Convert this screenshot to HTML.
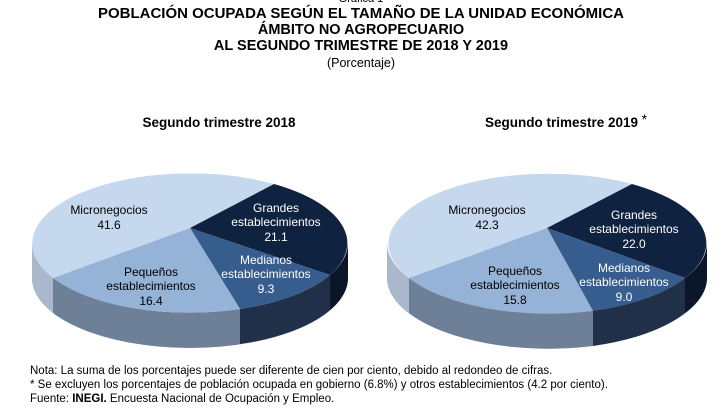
<!DOCTYPE html>
<html><head><meta charset="utf-8"><style>
body{margin:0;width:723px;height:412px;background:#fff;overflow:hidden;font-family:"Liberation Sans",Arial,sans-serif}
</style></head><body>
<svg width="723" height="412" xmlns="http://www.w3.org/2000/svg" font-family="Liberation Sans, Arial, sans-serif">
<defs>
<linearGradient id="sideL" x1="0" x2="1"><stop offset="0" stop-color="#a7b6c8"/><stop offset="1" stop-color="#4a5a70"/></linearGradient>
</defs>
<g text-anchor="middle" font-weight="bold" font-size="14.5">
<text x="361" y="2" font-weight="normal" font-size="11">Gráfica 1</text>
<text x="361" y="18" textLength="526" lengthAdjust="spacingAndGlyphs">POBLACIÓN OCUPADA SEGÚN EL TAMAÑO DE LA UNIDAD ECONÓMICA</text>
<text x="361" y="34">ÁMBITO NO AGROPECUARIO</text>
<text x="361" y="50">AL SEGUNDO TRIMESTRE DE 2018 Y 2019</text>
<text x="361" y="67" font-weight="normal" font-size="12.5">(Porcentaje)</text>
<text x="219" y="127" font-size="13.5">Segundo trimestre  2018</text>
<text x="566" y="127" font-size="13.5">Segundo trimestre  2019 <tspan font-weight="normal" dy="-3">*</tspan></text>
</g>

<!-- Left pie -->
<g>
<path d="M32,243 A158,70 0 0 0 348,243 L348,278 A158,70 0 0 1 32,278 Z" fill="url(#sideL)"/>
<path d="M330,275 A158,70 0 0 0 348,243 L348,278 A158,70 0 0 1 330,310 Z" fill="#0b1628"/>
<path d="M240,309 A158,70 0 0 0 330,275 L330,310 A158,70 0 0 1 240,344 Z" fill="#1f3048"/>
<path d="M53,278 A158,70 0 0 0 240,309 L240,344 A158,70 0 0 1 53,313 Z" fill="#6d8098"/>
<path d="M32,243 A158,70 0 0 0 53,278 L53,313 A158,70 0 0 1 32,278 Z" fill="#a9b8cb"/>
<path d="M190,228 L53,278 A158,70 0 0 1 274,184 Z" fill="#c6d8ed"/>
<path d="M190,228 L274,184 A158,70 0 0 1 330,275 Z" fill="#0f2240"/>
<path d="M190,228 L330,275 A158,70 0 0 1 240,309 Z" fill="#365d8d"/>
<path d="M190,228 L240,309 A158,70 0 0 1 53,278 Z" fill="#95b3d7"/>
</g>
<g font-size="12" text-anchor="middle">
<text x="109" y="214">Micronegocios</text><text x="109" y="229">41.6</text>
<text x="276" y="212" fill="#fff">Grandes</text><text x="276" y="226" fill="#fff">establecimientos</text><text x="276" y="241" fill="#fff">21.1</text>
<text x="266" y="264" fill="#fff">Medianos</text><text x="266" y="278" fill="#fff">establecimientos</text><text x="266" y="293" fill="#fff">9.3</text>
<text x="151" y="276">Pequeños</text><text x="151" y="290">establecimientos</text><text x="151" y="305">16.4</text>
</g>

<!-- Right pie -->
<g transform="translate(357,0)">
<path d="M30,243 A160,70 0 0 0 350,243 L350,278 A160,70 0 0 1 30,278 Z" fill="url(#sideL)"/>
<path d="M328,278 A160,70 0 0 0 350,243 L350,278 A160,70 0 0 1 328,313 Z" fill="#0b1628"/>
<path d="M236,311 A160,70 0 0 0 328,278 L328,313 A160,70 0 0 1 236,346 Z" fill="#1f3048"/>
<path d="M52,278 A160,70 0 0 0 236,311 L236,346 A160,70 0 0 1 52,313 Z" fill="#6d8098"/>
<path d="M30,243 A160,70 0 0 0 52,278 L52,313 A160,70 0 0 1 30,278 Z" fill="#a9b8cb"/>
<path d="M190,228 L52,278 A160,70 0 0 1 275,184 Z" fill="#c6d8ed"/>
<path d="M190,228 L275,184 A160,70 0 0 1 328,278 Z" fill="#0f2240"/>
<path d="M190,228 L328,278 A160,70 0 0 1 236,311 Z" fill="#365d8d"/>
<path d="M190,228 L236,311 A160,70 0 0 1 52,278 Z" fill="#95b3d7"/>
</g>
<g font-size="12" text-anchor="middle">
<text x="487" y="214">Micronegocios</text><text x="487" y="229">42.3</text>
<text x="634" y="219" fill="#fff">Grandes</text><text x="634" y="233" fill="#fff">establecimientos</text><text x="634" y="248" fill="#fff">22.0</text>
<text x="624" y="272" fill="#fff">Medianos</text><text x="624" y="286" fill="#fff">establecimientos</text><text x="624" y="301" fill="#fff">9.0</text>
<text x="515" y="275">Pequeños</text><text x="515" y="289">establecimientos</text><text x="515" y="304">15.8</text>
</g>

<g font-size="11.5">
<text x="30" y="374">Nota: La suma de los porcentajes puede ser diferente de cien por ciento, debido al redondeo de cifras.</text>
<text x="30" y="388">* Se excluyen los porcentajes de población ocupada en gobierno (6.8%) y otros establecimientos (4.2 por ciento).</text>
<text x="30" y="402">Fuente: <tspan font-weight="bold">INEGI.</tspan> Encuesta Nacional de Ocupación y Empleo.</text>
</g>
</svg>
</body></html>
